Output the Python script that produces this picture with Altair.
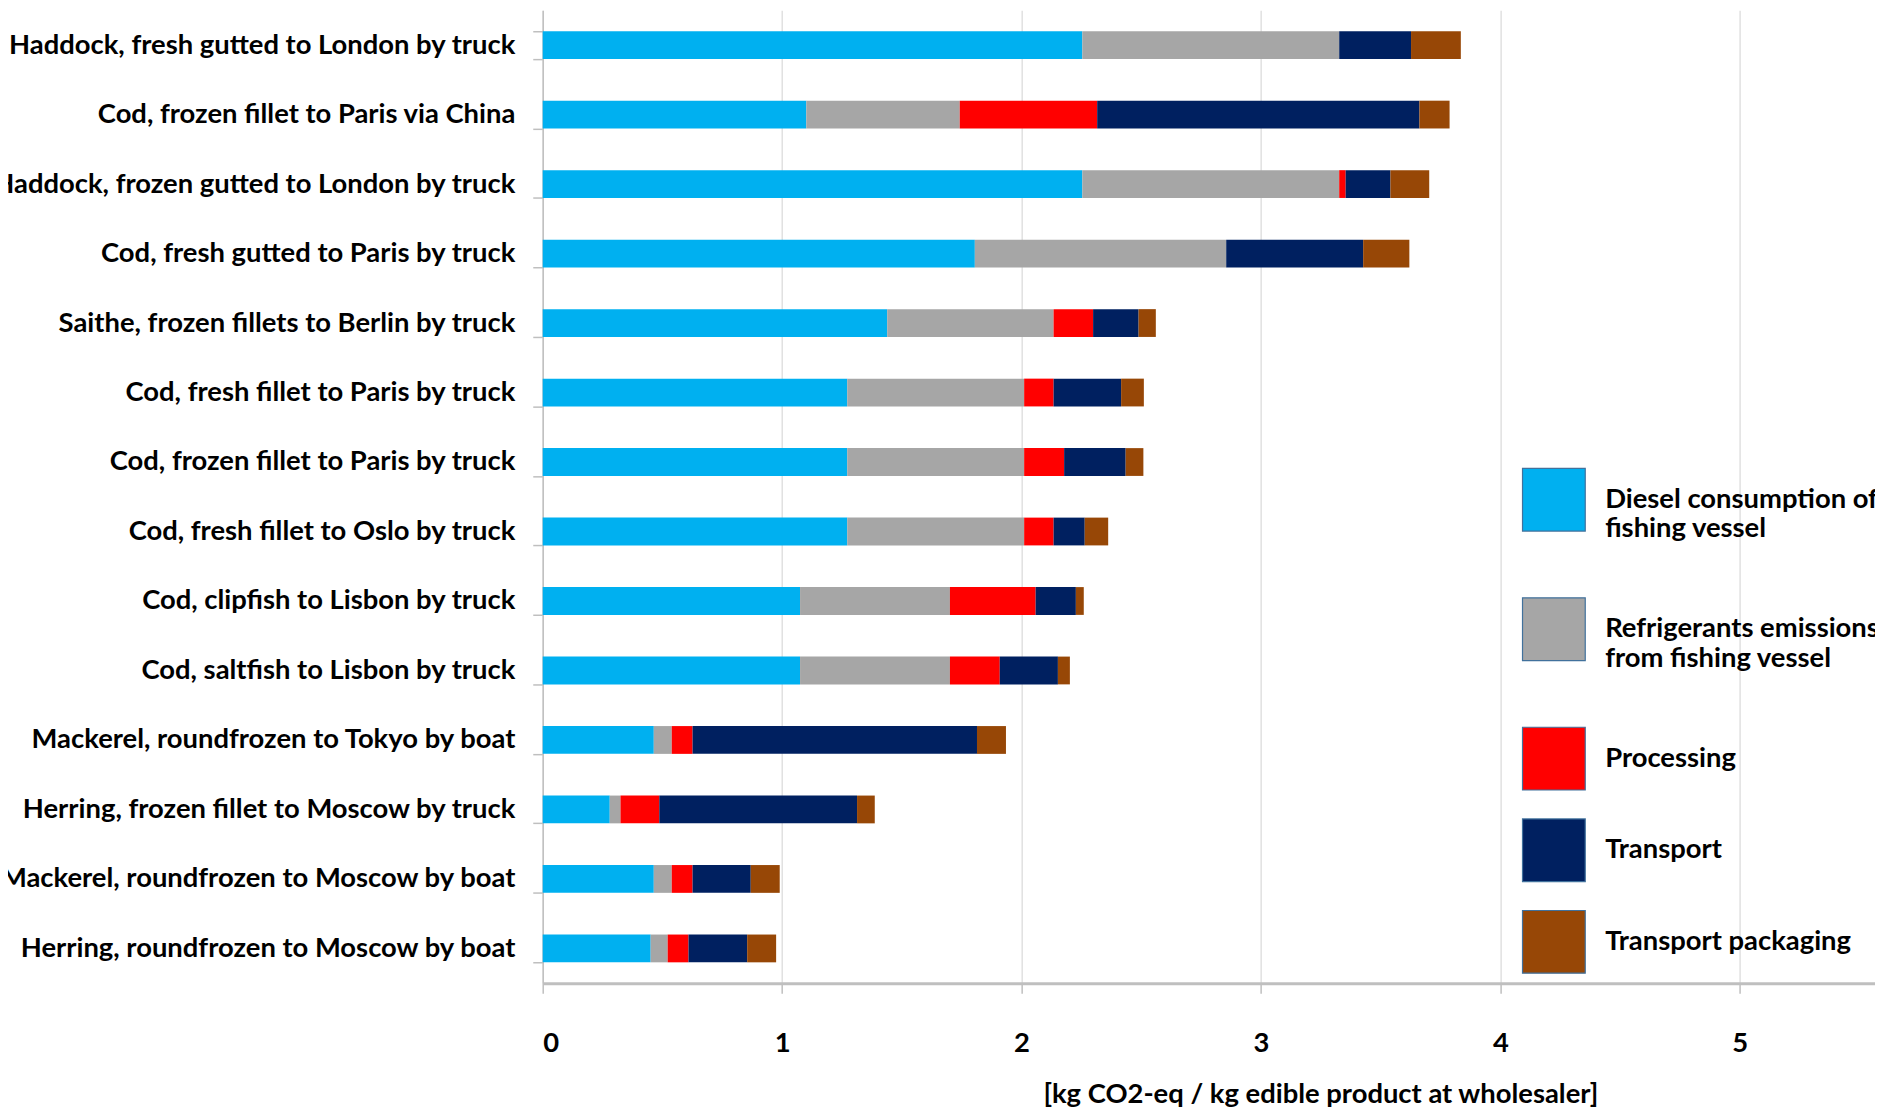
import altair as alt
import pandas as pd

products = [
    "Haddock, fresh gutted to London by truck",
    "Cod, frozen fillet to Paris via China",
    "Haddock, frozen gutted to London by truck",
    "Cod, fresh gutted to Paris by truck",
    "Saithe, frozen fillets to Berlin by truck",
    "Cod, fresh fillet to Paris by truck",
    "Cod, frozen fillet to Paris by truck",
    "Cod, fresh fillet to Oslo by truck",
    "Cod, clipfish to Lisbon by truck",
    "Cod, saltfish to Lisbon by truck\u00a0",
    "Mackerel, roundfrozen to Tokyo by boat",
    "Herring, frozen fillet to Moscow by truck",
    "Mackerel, roundfrozen to Moscow by boat",
    "Herring, roundfrozen to Moscow by boat",
]

diesel = [2.254, 1.101, 2.254, 1.805, 1.439, 1.272, 1.272, 1.272, 1.075, 1.075, 0.464, 0.280, 0.464, 0.451]
refrigerants = [1.073, 0.641, 1.073, 1.050, 0.695, 0.739, 0.739, 0.739, 0.626, 0.626, 0.075, 0.045, 0.075, 0.071]
processing = [0.0, 0.574, 0.027, 0.0, 0.165, 0.123, 0.167, 0.123, 0.358, 0.208, 0.087, 0.162, 0.087, 0.087]
transport = [0.300, 1.346, 0.187, 0.572, 0.190, 0.282, 0.257, 0.130, 0.168, 0.243, 1.188, 0.826, 0.243, 0.245]
packaging = [0.208, 0.126, 0.162, 0.193, 0.072, 0.095, 0.074, 0.098, 0.033, 0.050, 0.121, 0.074, 0.121, 0.121]

components = [
    "Diesel consumption of fishing vessel",
    "Refrigerants emissions from fishing vessel",
    "Processing",
    "Transport",
    "Transport packaging",
]
colors = ["#00B0F0", "#A6A6A6", "#FF0000", "#002060", "#974706"]
x_ticks = [0, 1, 2, 3, 4, 5]
x_title = "[kg CO2-eq / kg edible product at wholesaler]"

series = [diesel, refrigerants, processing, transport, packaging]
rows = []
for ci, (comp, vals) in enumerate(zip(components, series)):
    for p, v in zip(products, vals):
        rows.append({"Product": p, "Component": comp, "Idx": ci, "Value": v})
df = pd.DataFrame(rows)

FONT = "Lato, 'Liberation Sans', sans-serif"
FS = 27.5

label_expr = (
    "datum.label == 'Diesel consumption of fishing vessel' ? ['Diesel consumption of', '\u00a0', 'fishing vessel'] : "
    "datum.label == 'Refrigerants emissions from fishing vessel' ? ['Refrigerants emissions', '\u00a0', 'from fishing vessel'] : "
    "datum.label"
)

chart = (
    alt.Chart(df)
    .mark_bar()
    .encode(
        y=alt.Y(
            "Product:N",
            sort=products,
            scale=alt.Scale(paddingInner=0.6, paddingOuter=0.3),
            axis=alt.Axis(
                title=None,
                labelFont=FONT,
                labelFontSize=FS,
                labelFontWeight="bold",
                labelColor="black",
                labelPadding=18,
                labelLimit=900,
                tickSize=10,
                tickColor="#BFBFBF",
                tickWidth=1.5,
                tickBand="extent",
                domainColor="#BFBFBF",
                domainWidth=1.5,
                grid=False,
            ),
        ),
        x=alt.X(
            "Value:Q",
            stack="zero",
            scale=alt.Scale(domain=[0, 5.565], nice=False, zero=True),
            axis=alt.Axis(
                values=x_ticks,
                format="d",
                title=x_title,
                labelFont=FONT,
                labelFontSize=FS,
                labelFontWeight="bold",
                labelColor="black",
                labelPadding=37,
                tickSize=10,
                tickColor="#BFBFBF",
                tickWidth=1.5,
                domainColor="#BFBFBF",
                domainWidth=3,
                grid=True,
                gridColor="#D9D9D9",
                gridWidth=1.2,
                titleFont=FONT,
                titleFontSize=FS,
                titleFontWeight="bold",
                titleColor="black",
                titleX=781,
                titleY=112,
                titleAlign="center",
                titleBaseline="middle",
            ),
        ),
        color=alt.Color(
            "Component:N",
            scale=alt.Scale(domain=components, range=colors),
            legend=alt.Legend(
                title=None,
                orient="none",
                legendX=983,
                legendY=459,
                padding=0,
                symbolType="square",
                symbolSize=3969,
                symbolStrokeColor="#41719C",
                symbolStrokeWidth=1.2,
                symbolOpacity=1,
                labelFont=FONT,
                labelFontSize=FS,
                labelFontWeight="bold",
                labelColor="black",
                labelOffset=19,
                labelLimit=1000,
                labelExpr=label_expr,
                rowPadding=23,
            ),
        ),
        order=alt.Order("Idx:Q", sort="ascending"),
    )
    .properties(
        width=1338,
        height=977,
        autosize=alt.AutoSizeParams(type="none"),
        padding={"left": 537, "top": 0, "right": 0, "bottom": 123},
    )
    .configure_view(stroke=None)
)

chart.save("out.html", embed_options={"renderer": "svg", "actions": False})
